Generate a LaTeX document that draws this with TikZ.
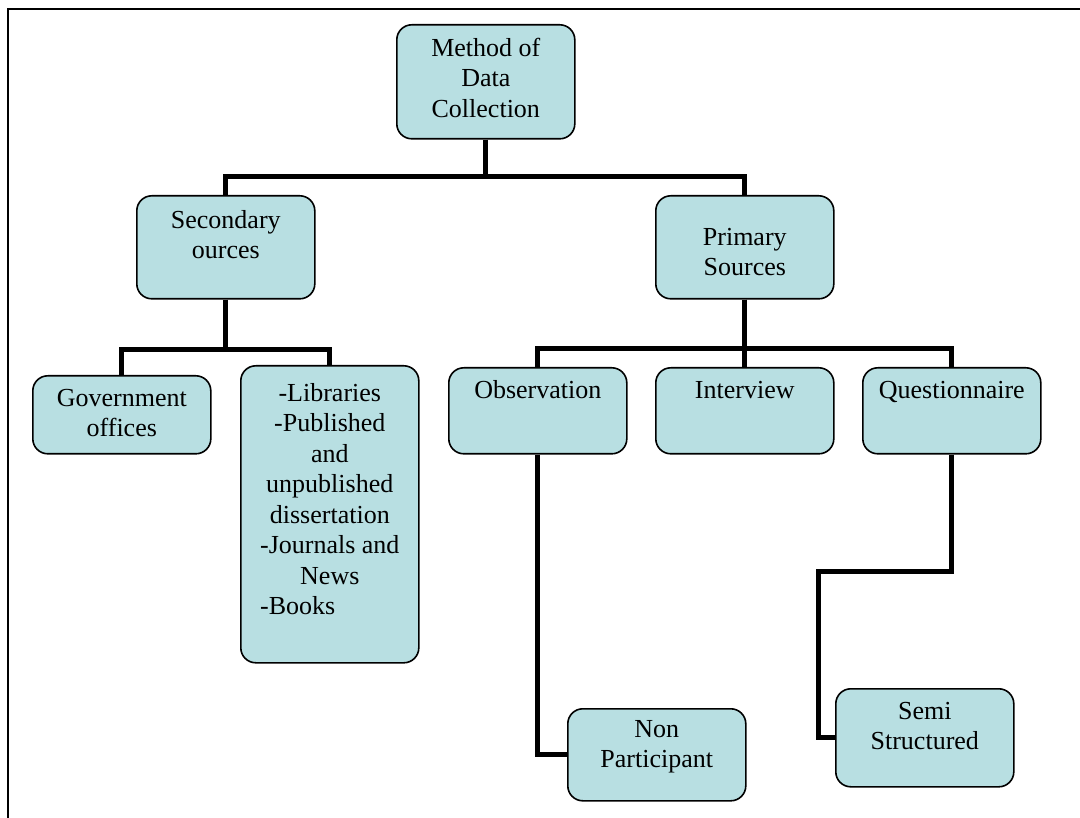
\documentclass[tikz,border=0pt]{standalone}
\usepackage{fontspec}
\setmainfont{Liberation Serif}
\usepackage{calc}
\usepackage{tikz}
\definecolor{boxcyan}{HTML}{B8DFE2}
% fixed-size box text: width, height, top padding, lines
\newcommand{\boxtext}[4]{\parbox[c][#2][t]{#1}{\centering\vspace*{#3}\strut#4}}

\begin{document}
\begin{tikzpicture}[
    x=1pt, y=-1pt,
    mbox/.style={draw, line width=1.6pt, fill=boxcyan, rounded corners=15pt, inner sep=0pt, anchor=north west, font=\fontsize{26}{30.5}\selectfont},
    link/.style={line width=5pt}
]
    \useasboundingbox (0,0) rectangle (1080,818);
    \draw[line width=1.5pt] (8,818) -- (8,9) -- (1080,9);

    \node[mbox] (method) at (396,24) {\boxtext{178pt}{114pt}{10pt}{Method of\\Data\\Collection}};
    \node[mbox] (second) at (136,195) {\boxtext{178pt}{103pt}{11pt}{Secondary\\ources}};
    \node[mbox] (primary) at (655,195) {\boxtext{178pt}{103pt}{28pt}{Primary\\Sources}};

    \node[mbox] (gov) at (32,375) {\boxtext{178pt}{78pt}{9pt}{Government\\offices}};
    \node[mbox] (libs) at (240,365) {\boxtext{178pt}{297pt}{14pt}{-Libraries\\-Published\\and\\unpublished\\dissertation\\-Journals and\\News\\\makebox[\widthof{-Journals and}][l]{-Books}}};

    \node[mbox] (obs) at (448,367) {\boxtext{178pt}{86pt}{9pt}{Observation}};
    \node[mbox] (interview) at (655,367) {\boxtext{178pt}{86pt}{9pt}{Interview}};
    \node[mbox] (quest) at (862,367) {\boxtext{178pt}{86pt}{9pt}{Questionnaire}};

    \node[mbox] (nonpart) at (567,708) {\boxtext{178pt}{92pt}{7pt}{Non\\Participant}};
    \node[mbox] (semi) at (835,688) {\boxtext{178pt}{98pt}{9pt}{Semi\\Structured}};

    % tree links
    \draw[link] (method.south) -- ++(0,37) -| (second.north);
    \draw[link] (method.south) -- ++(0,37) -| (primary.north);
    \draw[link] (second.south) -- ++(0,50) -| (gov.north);
    \draw[link] (second.south) -- ++(0,50) -| (libs.north);
    \draw[link] (primary.south) -- ++(0,49) -| (obs.north);
    \draw[link] (primary.south) -- (interview.north);
    \draw[link] (primary.south) -- ++(0,49) -| (quest.north);
    \draw[link] (obs.south) |- (nonpart.west);
    \draw[link] (quest.south) |- ++(-133,117) |- (semi.west);
\end{tikzpicture}
\end{document}
